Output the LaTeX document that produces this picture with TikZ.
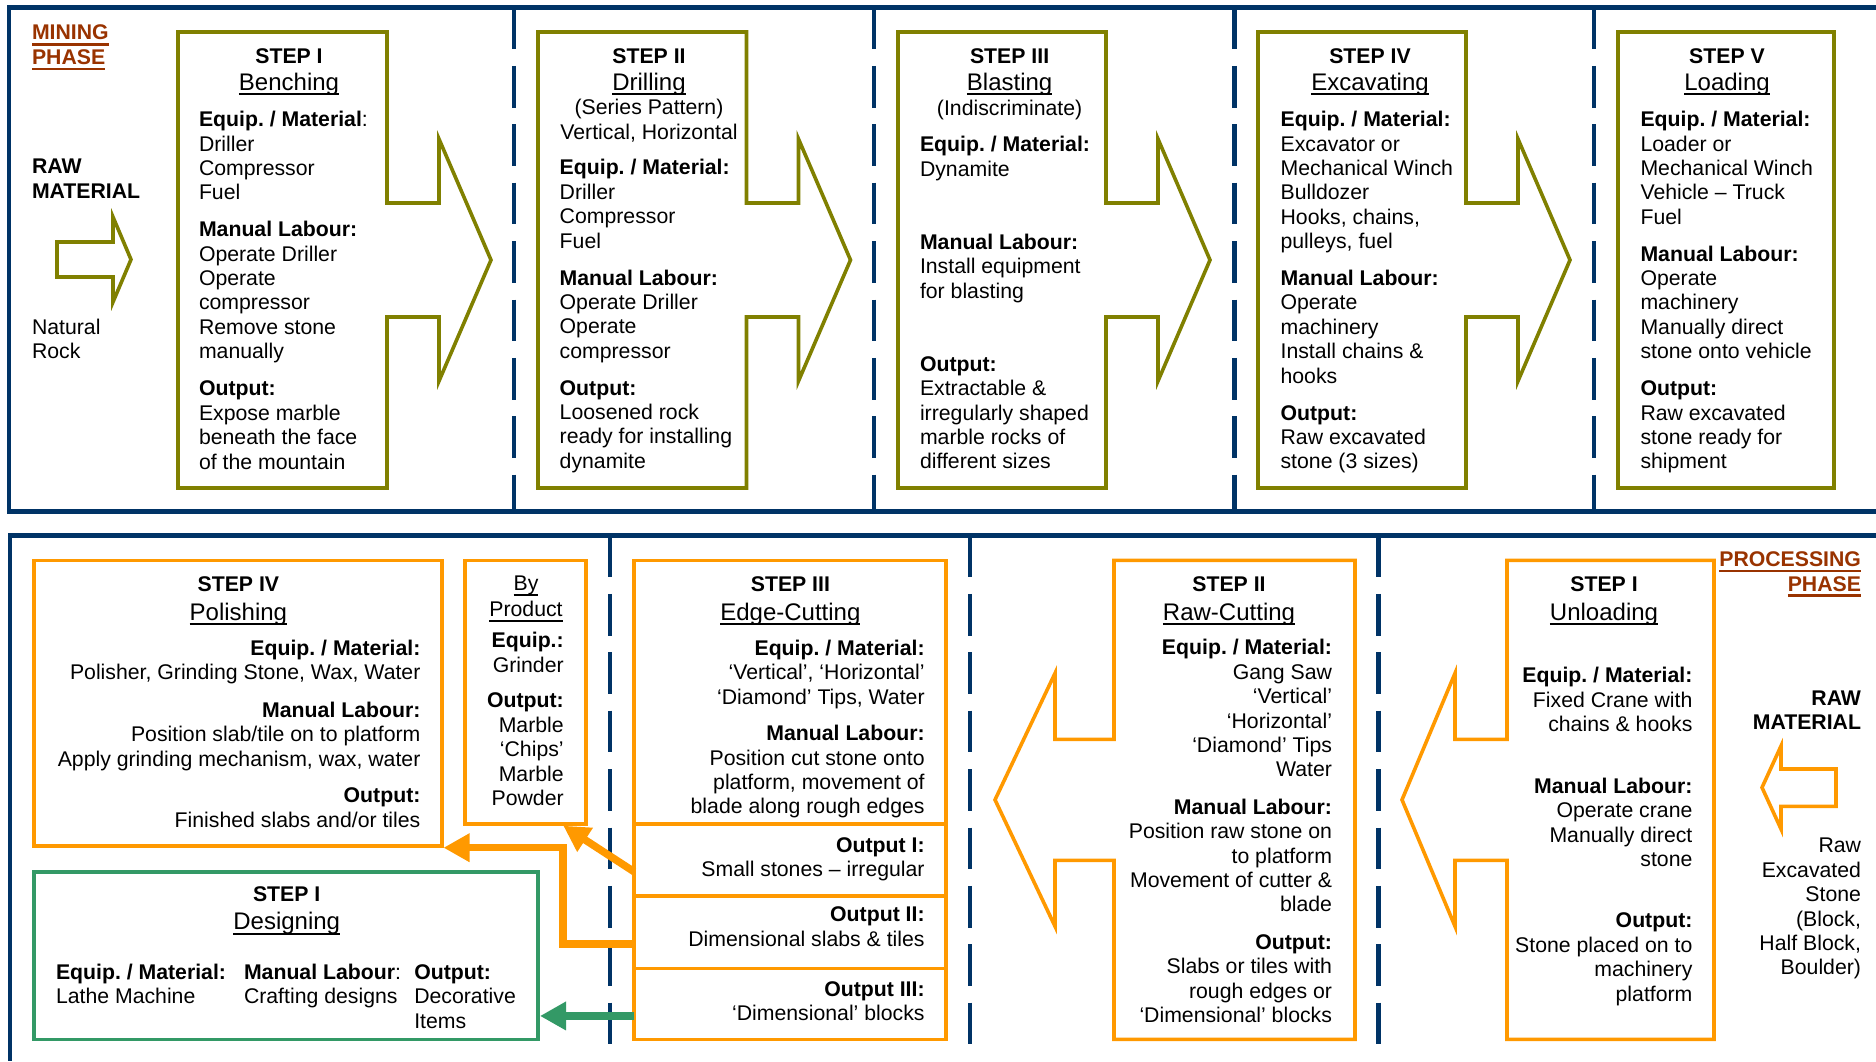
\documentclass[tikz,border=0pt]{standalone}
\usepackage{fontspec}
\setmainfont{Liberation Sans}
\usetikzlibrary{arrows.meta,calc}
\frenchspacing

\definecolor{navy}{HTML}{003366}
\definecolor{olivebox}{HTML}{808000}
\definecolor{orangebox}{HTML}{FF9900}
\definecolor{greenbox}{HTML}{339966}
\definecolor{phasebrown}{HTML}{993300}

% underline drawn at a fixed depth: #2 = depth of the rule bottom, #3 = thickness
\newsavebox\ulsave
\newcommand\ulbox[3]{\sbox\ulsave{#1}\rlap{\rule[-#2]{\wd\ulsave}{#3}}\usebox\ulsave}
\newcommand\bodyfont{\fontsize{21.25}{24.4}\selectfont\frenchspacing}
\newcommand\stepname[1]{{\fontsize{24}{27.6}\selectfont\ulbox{#1}{5pt}{1.7pt}}}
\newcommand\phasename[1]{\ulbox{\textbf{#1}}{5.7pt}{2.4pt}}
\newcommand\hd[1]{\textbf{#1}}

% mining step: box with a right-pointing block arrow on its right side
\newcommand\minestep[2]{%
  \draw[mineline] (#1,32) -- (#2,32) -- (#2,203) -- ({#2+52},203) -- ({#2+52},139)
    -- ({#2+104},260) -- ({#2+52},381) -- ({#2+52},317) -- (#2,317) -- (#2,488)
    -- (#1,488) -- cycle;}
% processing step: box with a left-pointing block arrow on its left side
\newcommand\procstep[4]{%
  \draw[procline] (#2,560.4) -- (#1,560.4) -- (#1,739.3) -- (#3,739.3) -- (#3,673.3)
    -- (#4,799.8) -- (#3,926.3) -- (#3,860.3) -- (#1,860.3) -- (#1,1039.3)
    -- (#2,1039.3) -- cycle;}

\tikzset{
  txt/.style={inner sep=0pt, outer sep=0pt, font=\bodyfont, text=black},
  lblock/.style={txt, align=left, anchor=north west},
  rblock/.style={txt, align=right, anchor=north east},
  cblock/.style={txt, align=center, anchor=north},
  ttl/.style={txt, anchor=base},
  ttlbold/.style={txt, anchor=base, font=\bodyfont\bfseries},
  frameline/.style={draw=navy, line width=4.8pt},
  sepline/.style={draw=navy, line width=4.5pt, dash pattern=on 41.7pt off 16.7pt},
  mineline/.style={draw=olivebox, line width=3.6pt},
  procline/.style={draw=orangebox, line width=3.6pt},
  pbox/.style={draw=orangebox, line width=3.6pt, inner sep=0pt, outer sep=0pt},
  gbox/.style={draw=greenbox, line width=3.6pt, inner sep=0pt, outer sep=0pt},
  oarrow/.style={draw=orangebox, line width=7.5pt,
    -{Triangle[length=26pt,width=27pt]}},
  garrow/.style={draw=greenbox, line width=8pt,
    -{Triangle[length=26pt,width=27pt]}},
}

\begin{document}
\begin{tikzpicture}[x=1pt,y=-1pt]
\useasboundingbox (0,0) rectangle (1876,1061);
\fill[white] (0,0) rectangle (1876,1061);

% ---------------- frames and column separators ----------------
\draw[frameline] (1876,7.5) -- (9,7.5) -- (9,511.5) -- (1876,511.5);
\draw[frameline] (1876,535.5) -- (10,535.5) -- (10,1061);
\foreach \x in {514,874,1234.5,1594} \draw[sepline] (\x,7.5) -- (\x,511.5);
\foreach \x in {610,970,1378.5} \draw[sepline] (\x,535.5) -- (\x,1047);

% ---------------- mining phase ----------------
\node[lblock, text=phasebrown] (mining) at (32,22.9) {\strut\phasename{MINING}\\\phasename{PHASE}};
\node[lblock, font=\bodyfont\bfseries] (rawtop) at (32,156.9) {\strut RAW\\MATERIAL};
\node[lblock] (natural) at (32,317.2) {\strut Natural\\Rock};
\draw[mineline] (57,242) -- (113,242) -- (113,217) -- (131,259.5) -- (113,302)
  -- (113,277) -- (57,277) -- cycle;

\minestep{178}{387}
\minestep{538}{746.5}
\minestep{898}{1106}
\minestep{1258}{1466}
\draw[mineline] (1618,32) rectangle (1834,488);

% step I
\node[ttlbold] (m1step) at (289,63.3) {STEP I};
\node[ttl] (m1name) at (289,90) {\stepname{Benching}};
\node[lblock] (m1body) at (199,109.6) {\strut\hd{Equip. / Material}:\\Driller\\Compressor\\Fuel\\[12.4pt]
  \hd{Manual Labour:}\\Operate Driller\\Operate\\compressor\\Remove stone\\manually\\[12.9pt]
  \hd{Output:}\\Expose marble\\beneath the face\\of the mountain};

% step II
\node[ttlbold] (m2step) at (649,63.3) {STEP II};
\node[ttl] (m2name) at (649,90) {\stepname{Drilling}};
\node[cblock] (m2sub) at (649,97.9) {\strut(Series Pattern)\\Vertical, Horizontal};
\node[lblock] (m2body) at (559.7,157.9) {\strut\hd{Equip. / Material:}\\Driller\\Compressor\\Fuel\\[12.5pt]
  \hd{Manual Labour:}\\Operate Driller\\Operate\\compressor\\[12.5pt]
  \hd{Output:}\\Loosened rock\\ready for installing\\dynamite};

% step III
\node[ttlbold] (m3step) at (1009.6,63.3) {STEP III};
\node[ttl] (m3name) at (1009.6,90) {\stepname{Blasting}};
\node[ttl] (m3sub) at (1009.6,115) {(Indiscriminate)};
\node[lblock] (m3body) at (920,134.6) {\strut\hd{Equip. / Material:}\\Dynamite\\[48.8pt]
  \hd{Manual Labour:}\\Install equipment\\for blasting\\[48.8pt]
  \hd{Output:}\\Extractable \&\\irregularly shaped\\marble rocks of\\different sizes};

% step IV
\node[ttlbold] (m4step) at (1370,63.3) {STEP IV};
\node[ttl] (m4name) at (1370,90) {\stepname{Excavating}};
\node[lblock] (m4body) at (1280.6,109.6) {\strut\hd{Equip. / Material:}\\Excavator or\\Mechanical Winch\\Bulldozer\\Hooks, chains,\\pulleys, fuel\\[12.5pt]
  \hd{Manual Labour:}\\Operate\\machinery\\Install chains \&\\hooks\\[12.5pt]
  \hd{Output:}\\Raw excavated\\stone (3 sizes)};

% step V
\node[ttlbold] (m5step) at (1727,63.3) {STEP V};
\node[ttl] (m5name) at (1727,90) {\stepname{Loading}};
\node[lblock] (m5body) at (1640.5,109.6) {\strut\hd{Equip. / Material:}\\Loader or\\Mechanical Winch\\Vehicle – Truck\\Fuel\\[12.5pt]
  \hd{Manual Labour:}\\Operate\\machinery\\Manually direct\\stone onto vehicle\\[12.5pt]
  \hd{Output:}\\Raw excavated\\stone ready for\\shipment};

% ---------------- processing phase ----------------
\node[rblock, text=phasebrown] (processing) at (1861,549.6) {\strut\phasename{PROCESSING}\\\phasename{PHASE}};
\node[rblock, font=\bodyfont\bfseries] (rawbottom) at (1861,688.2) {\strut RAW\\MATERIAL};
\node[rblock] (rawstone) at (1861,835.9) {\strut Raw\\Excavated\\Stone\\(Block,\\Half Block,\\Boulder)};
\draw[procline] (1836,769) -- (1781,769) -- (1781,746) -- (1762,787.5) -- (1781,829)
  -- (1781,806.4) -- (1836,806.4) -- cycle;

\procstep{1507}{1714}{1455}{1402}
\procstep{1114}{1355}{1055}{995}

% step I unloading
\node[ttlbold] (p1step) at (1604,591.5) {STEP I};
\node[ttl] (p1name) at (1604,620) {\stepname{Unloading}};
\node[rblock] (p1body) at (1692.4,665.8) {\strut\hd{Equip. / Material:}\\Fixed Crane with\\chains \& hooks\\[37.2pt]
  \hd{Manual Labour:}\\Operate crane\\Manually direct\\stone\\[37pt]
  \hd{Output:}\\Stone placed on to\\machinery\\platform};

% step II raw-cutting
\node[ttlbold] (p2step) at (1229,591.5) {STEP II};
\node[ttl] (p2name) at (1229,620) {\stepname{Raw-Cutting}};
\node[rblock] (p2body) at (1332,637.9) {\strut\hd{Equip. / Material:}\\Gang Saw\\‘Vertical’\\‘Horizontal’\\‘Diamond’ Tips\\Water\\[13pt]
  \hd{Manual Labour:}\\Position raw stone on\\to platform\\Movement of cutter \&\\blade\\[13pt]
  \hd{Output:}\\Slabs or tiles with\\rough edges or\\‘Dimensional’ blocks};

% step III edge-cutting, split into its outputs
\node[pbox, minimum width=312pt, minimum height=263.3pt] (ec0) at (790,692.05) {};
\node[pbox, minimum width=312pt, minimum height=72.3pt] (ec1) at (790,859.85) {};
\node[pbox, minimum width=312pt, minimum height=72.6pt] (ec2) at (790,932.3) {};
\node[pbox, minimum width=312pt, minimum height=70.7pt] (ec3) at (790,1003.95) {};
\node[ttlbold] (p3step) at (790.4,591.5) {STEP III};
\node[ttl] (p3name) at (790.4,620) {\stepname{Edge-Cutting}};
\node[rblock] (p3body) at (924.6,638.2) {\strut\hd{Equip. / Material:}\\‘Vertical’, ‘Horizontal’\\‘Diamond’ Tips, Water\\[12.3pt]
  \hd{Manual Labour:}\\Position cut stone onto\\platform, movement of\\blade along rough edges};
\node[rblock] (out1) at (924.6,835.2) {\strut\hd{Output I:}\\Small stones – irregular};
\node[rblock] (out2) at (924.6,904.9) {\strut\hd{Output II:}\\Dimensional slabs \& tiles};
\node[rblock] (out3) at (924.6,979.1) {\strut\hd{Output III:}\\‘Dimensional’ blocks};

% step IV polishing and by-product
\node[pbox, minimum width=408pt, minimum height=285.6pt] (polish) at (238,703.2) {};
\node[ttlbold] (p4step) at (238.4,591.5) {STEP IV};
\node[ttl] (p4name) at (238.4,620) {\stepname{Polishing}};
\node[rblock] (p4body) at (420.4,638.2) {\strut\hd{Equip. / Material:}\\Polisher, Grinding Stone, Wax, Water\\[13.3pt]
  \hd{Manual Labour:}\\Position slab/tile on to platform\\Apply grinding mechanism, wax, water\\[12.4pt]
  \hd{Output:}\\Finished slabs and/or tiles};

\node[pbox, minimum width=120.7pt, minimum height=263.3pt] (byprod) at (525.35,692.05) {};
\node[cblock] (bytitle) at (526,573.6) {\strut\ulbox{By}{5pt}{1.7pt}\\[1.5pt]\ulbox{Product}{5pt}{1.7pt}};
\node[rblock] (bybody) at (563.7,630.9) {\strut\hd{Equip.:}\\Grinder\\[11.2pt]
  \hd{Output:}\\Marble\\‘Chips’\\Marble\\Powder};

% designing
\node[gbox, minimum width=504pt, minimum height=167.3pt] (design) at (286,955.65) {};
\node[ttlbold] (d1step) at (286.7,901.8) {STEP I};
\node[ttl] (d1name) at (286.7,929.5) {\stepname{Designing}};
\node[lblock] (dequip) at (56,962.4) {\strut\hd{Equip. / Material:}\\Lathe Machine};
\node[lblock] (dlabour) at (244,962.4) {\strut\hd{Manual Labour}:\\Crafting designs};
\node[lblock] (doutput) at (414.3,962.4) {\strut\hd{Output:}\\Decorative\\Items};

% ---------------- flows of the edge-cutting outputs ----------------
\coordinate (bend) at (563,847.7);
\draw[oarrow] ($(ec2.west)+(0,11.7)$) -| (bend) -- ($(polish.south east)+(1.5,1.7)$);
\draw[oarrow] ($(ec1.west)+(0,11.8)$) -- ($(byprod.south east)+(-22.4,2)$);
\draw[garrow] ($(ec3.west)+(0,12)$) -- ($(design.east |- ec3.west)+(2,12)$);

\end{tikzpicture}
\end{document}
